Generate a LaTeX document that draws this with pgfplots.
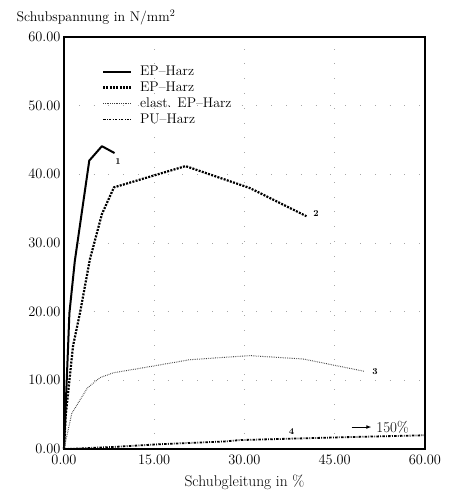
\documentclass[border=0pt]{standalone}
\usepackage{pgfplots}
\pgfplotsset{compat=1.18}
\usetikzlibrary{arrows.meta}

\begin{document}
\begin{tikzpicture}
\begin{axis}[
  name=ax, at={(0,0)}, anchor=south west,
  scale only axis, width=361pt, height=412pt,
  xmin=0, xmax=60, ymin=0, ymax=60,
  xtick={0,15,30,45,60}, ytick={0,10,...,60},
  major tick length=0pt,
  axis line style={line width=1.6pt},
  grid=major,
  major grid style={gray!70, line width=0.7pt, dash pattern=on 0.8pt off 14pt},
  /pgf/number format/fixed, /pgf/number format/fixed zerofill,
  /pgf/number format/precision=2,
  xticklabel style={font=\fontsize{15}{18}\selectfont, yshift=-3pt},
  yticklabel style={font=\fontsize{15}{18}\selectfont},
  xlabel={Schubgleitung in \%},
  ylabel={Schubspannung in N/mm$^2$},
  every axis x label/.style={at={(axis description cs:0.5,-0.09)}, anchor=base,
    font=\fontsize{15.5}{18}\selectfont},
  every axis y label/.style={at={(axis description cs:-0.141,1.037)}, anchor=base west,
    font=\fontsize{14}{17}\selectfont},
  legend style={at={(axis description cs:0.105,0.932)}, anchor=north west,
    draw=none, fill=none, inner sep=0pt, outer sep=0pt, row sep=3pt, column sep=8pt,
    font=\fontsize{14}{16}\selectfont,
    nodes={inner sep=0pt, text height=10pt, text depth=3pt}},
  legend image code/.code={\draw[#1] (0pt,0pt) -- (28pt,0pt);},
  legend cell align=left,
  clip=false]

% 1: EP-Harz (solid)
\addplot[black, line width=2pt, line join=round] coordinates {
  (0,0) (0.9,19.8) (1.8,27.4) (4.2,42.0) (6.3,44.1) (8.4,43.1)};
% 2: EP-Harz (dashed)
\addplot[black, line width=2.2pt, dash pattern=on 2pt off 1.3pt] coordinates {
  (0,0) (0.3,5) (1.5,15) (2.7,20) (4.3,27.6) (6.3,34.2) (8.3,38.1)
  (20.2,41.2) (30.9,38.0) (40.3,33.9)};
% 3: elast. EP-Harz (fine dots)
\addplot[black!75, line width=1pt, dash pattern=on 0.7pt off 1.1pt] coordinates {
  (0,0) (1.3,5.2) (3.9,8.9) (6.0,10.4) (8.2,11.1) (14.3,12.0) (20.9,13.0)
  (30.9,13.6) (39.8,13.1) (50.0,11.3)};
% 4: PU-Harz (dash dot)
\addplot[black, line width=1.8pt, dash pattern=on 2.5pt off 1.3pt on 0.8pt off 1.3pt] coordinates {
  (0,0) (8.2,0.3) (16,0.7) (26.7,1.1) (29.2,1.3) (45.8,1.7) (60,2.0)};

\legend{EP--Harz, EP--Harz, elast. EP--Harz, PU--Harz}

\node[font=\bfseries\fontsize{9}{10}\selectfont] at (axis cs:9.0,41.8) {1};
\node[font=\bfseries\fontsize{9}{10}\selectfont] at (axis cs:41.9,34.3) {2};
\node[font=\bfseries\fontsize{9}{10}\selectfont] at (axis cs:51.7,11.2) {3};
\node[font=\bfseries\fontsize{9}{10}\selectfont] at (axis cs:37.8,2.5) {4};
\draw[-{Latex[length=5pt]}, line width=1pt] (axis cs:47.8,3.2) -- (axis cs:51.1,3.2);
\node[anchor=west, inner sep=0pt, font=\fontsize{15}{18}\selectfont] at (axis cs:51.9,3.2) {150\%};
\end{axis}
\pgfresetboundingbox
\path[use as bounding box] (-64pt,-42pt) rectangle (393pt,449pt);
\end{tikzpicture}
\end{document}
